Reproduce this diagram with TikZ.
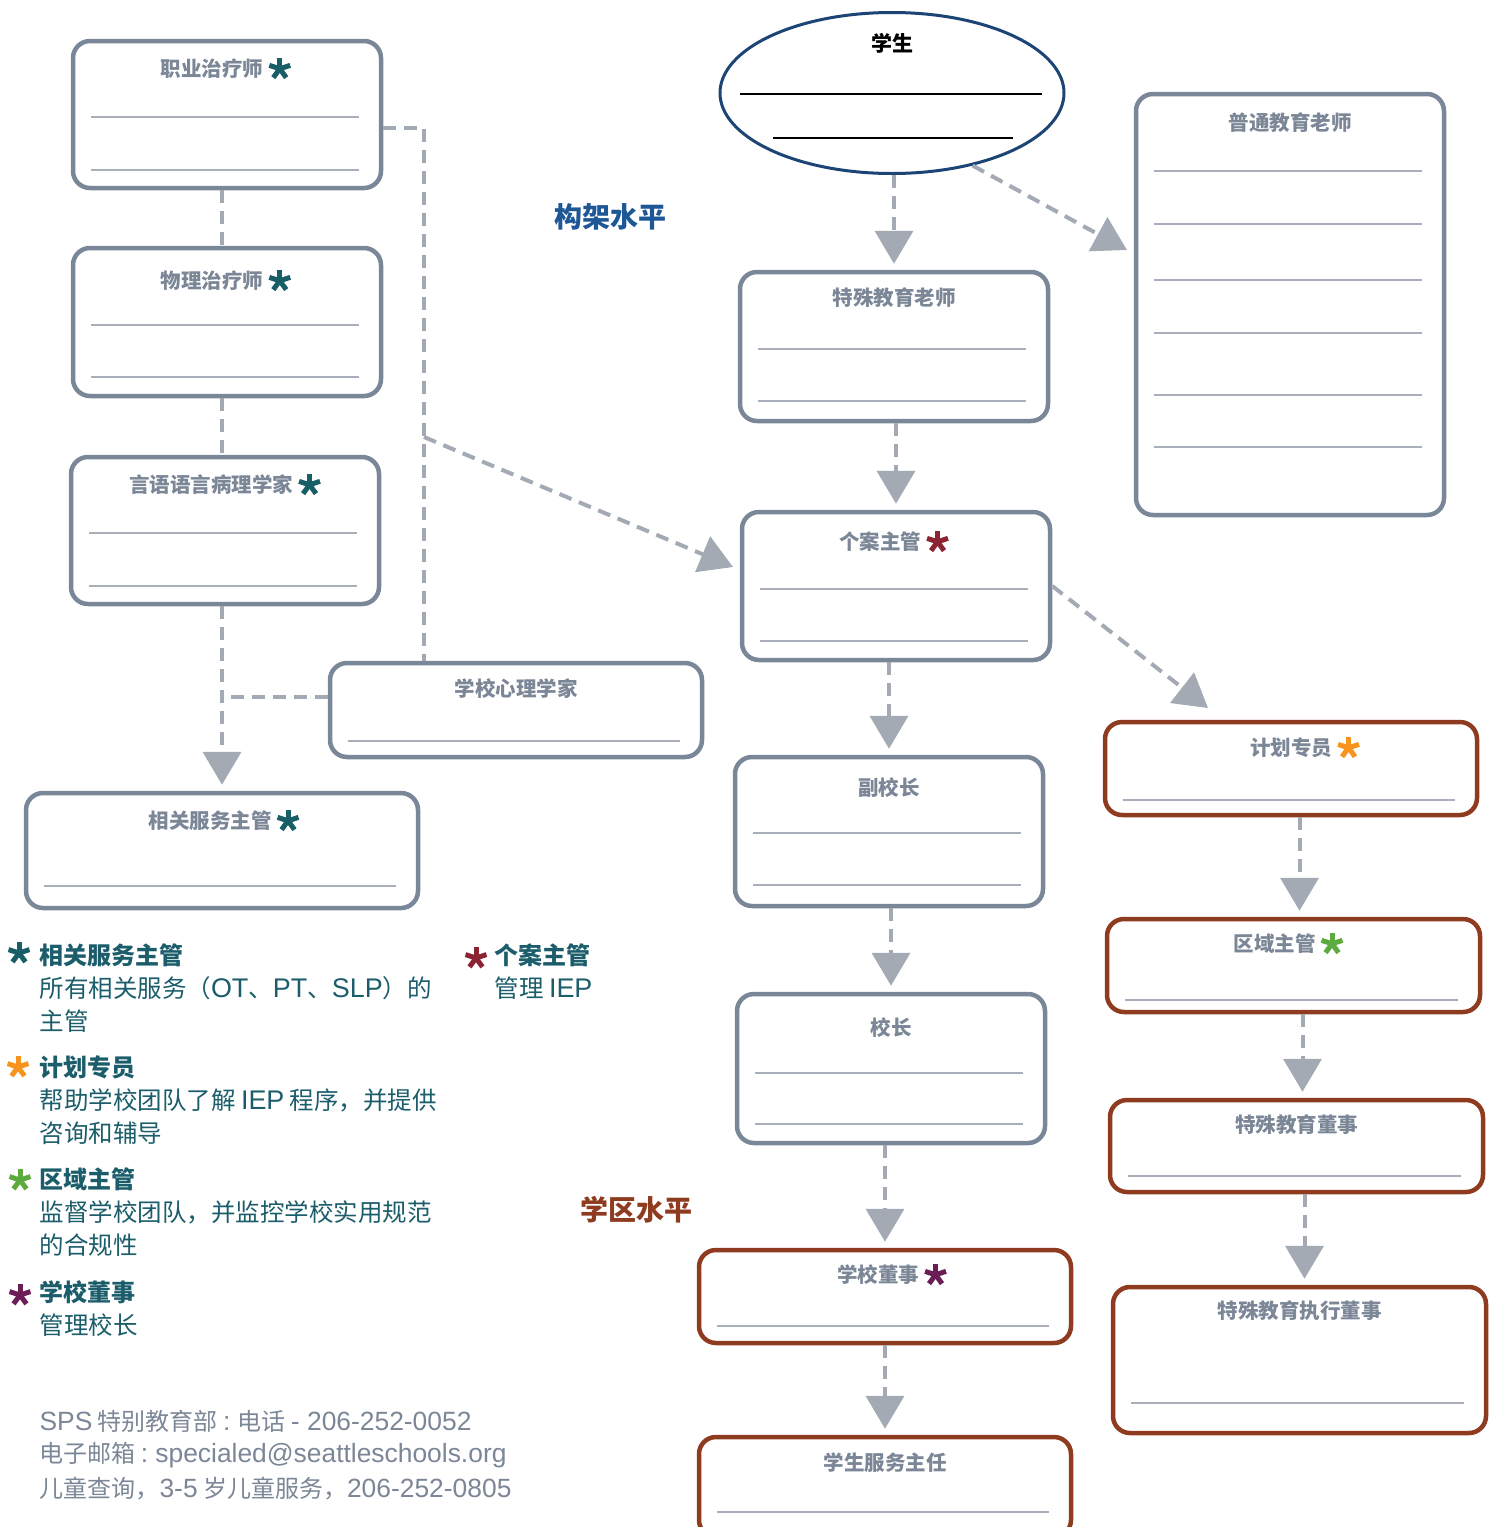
\documentclass[tikz,border=0pt]{standalone}
\usepackage{fontspec}
\setmainfont{Noto Sans CJK SC}
\newfontfamily\lat[Scale=1.1]{Liberation Sans}
\usetikzlibrary{shapes.geometric,arrows.meta}
\definecolor{frame}{HTML}{7A8798}
\definecolor{brick}{HTML}{8E3B20}
\definecolor{hair}{HTML}{A8AFBA}
\definecolor{linkgray}{HTML}{A3AAB4}
\definecolor{head}{HTML}{7B8696}
\definecolor{ink}{HTML}{1B5D6A}
\definecolor{navy}{HTML}{1C4475}
\definecolor{levelblue}{HTML}{1D5796}
\definecolor{starteal}{HTML}{175E66}
\definecolor{starred}{HTML}{8B2333}
\definecolor{starorange}{HTML}{F7941D}
\definecolor{stargreen}{HTML}{5DAA3F}
\definecolor{starplum}{HTML}{6B1E55}
\tikzset{
    card/.style={draw=frame, line width=4.5pt, rounded corners=17pt, fill=white},
    brickcard/.style={card, draw=brick},
    cardtitle/.style={text=head, font=\bfseries\fontsize{20.5}{23}\selectfont},
    hairline/.style={draw=hair, line width=2pt},
    link/.style={draw=linkgray, line width=4pt, dash pattern=on 13pt off 8pt},
    flow/.style={link, -{Triangle[width=38pt,length=33pt]}},
    drop/.style={flow, shorten >=6pt},
    legendhead/.style={anchor=west, text=ink, font=\bfseries\fontsize{24}{28}\selectfont},
    legendbody/.style={anchor=west, text=ink, font=\fontsize{24.5}{28}\selectfont},
    contact/.style={anchor=west, text=head, font=\fontsize{24}{28}\selectfont},
    spark/.pic={\foreach \a in {-90,-18,54,126,198} \draw[line width=5pt] (0,0) -- (\a:11);}
}
\begin{document}
\begin{tikzpicture}[x=1pt, y=-1pt]
    \clip (0,0) rectangle (1497,1527);
    \foreach \n/\x/\y/\w/\h/\s in {
        occ/227/114.5/308/147/card, phys/227/322/308/148/card,
        speech/225/530.5/308/147/card, psych/516/710/372/94/card,
        rsd/222/850.5/392/115/card, gened/1290/304.5/308/421/card,
        sped/894/346.5/308/149/card, cm/896/586/308/148/card,
        vp/889/831.5/308/149/card, prin/891/1068.5/308/149/card,
        sb/885/1296.5/372/93/brickcard, sss/885/1487/372/100/brickcard,
        ps/1291/768.5/372/93/brickcard, rs/1293.5/965.5/373/93/brickcard,
        sd/1296.5/1146/373/92/brickcard, ed/1299.5/1360/373/146/brickcard} {
        \node[\s, minimum width=\w pt, minimum height=\h pt] (\n) at (\x,\y) {};
    }
    \foreach \n/\dy/\dx/\t in {
        occ/30/-15/职业治疗师, phys/35/-15/物理治疗师, speech/30/-14/言语语言病理学家,
        psych/28/0/学校心理学家, rsd/30/-12/相关服务主管, gened/31/0/普通教育老师,
        sped/28/0/特殊教育老师, cm/32/-16/个案主管, vp/33/0/副校长, prin/36/0/校长,
        sb/27/-7/学校董事, sss/28/0/学生服务主任, ps/28/0/计划专员,
        rs/27/-19/区域主管, sd/27/0/特殊教育董事, ed/26/0/特殊教育执行董事} {
        \node[cardtitle] (\n-t) at ([xshift=\dx pt, yshift=-\dy pt]\n.north) {\t};
    }
    \foreach \n/\c in {occ/starteal, phys/starteal, speech/starteal, rsd/starteal,
        cm/starred, sb/starplum, ps/starorange, rs/stargreen} {
        \pic[\c] at ([xshift=13pt]\n-t.east) {spark};
    }
    \foreach \n/\list in {occ/{78,131}, phys/{79,131}, speech/{78,131}, psych/{80},
        rsd/{95}, gened/{79,132,188,241,303,355}, sped/{79,131}, cm/{79,131},
        vp/{78,130}, prin/{81,132}, sb/{78}, sss/{77}, ps/{80}, rs/{83}, sd/{78}, ed/{118}} {
        \foreach \d in \list
            \draw[hairline] ([xshift=20pt, yshift=-\d pt]\n.north west)
                -- ([xshift=-24pt, yshift=-\d pt]\n.north east);
    }
    \node[ellipse, draw=navy, line width=3pt, fill=white, minimum width=344pt,
        minimum height=161pt, inner sep=0pt] (stu) at (892,93) {};
    \node[font=\bfseries\fontsize{21}{24}\selectfont] (stu-t) at ([yshift=-32pt]stu.north) {学生};
    \draw[line width=2.5pt] (740,94) -- (1042,94) (773,138) -- (1013,138);
    \node[text=levelblue, font=\bfseries\fontsize{28}{32}\selectfont] (lvltop) at (610,217) {构架水平};
    \node[text=brick, font=\bfseries\fontsize{28}{32}\selectfont] (lvldist) at (636,1210) {学区水平};
    \coordinate (col) at (222,697);
    \coordinate (bend) at (424,128);
    \coordinate (fork) at (424,437);
    \coordinate (cmin) at (733,567);
    \coordinate (genin) at (1127,250);
    \coordinate (psin) at (1208,708);
    \draw[link] (occ.south -| col) -- (phys.north -| col);
    \draw[link] (phys.south -| col) -- (speech.north -| col);
    \draw[drop] (speech.south -| col) -- (rsd.north -| col);
    \draw[link] (psych.west |- col) -- (col);
    \draw[link] (occ.east |- bend) -- (bend) -- (bend |- psych.north);
    \draw[flow] (fork) -- (cmin);
    \draw[drop] (stu.south -| sped.north) -- (sped.north);
    \draw[flow] (stu.-42) -- (genin);
    \draw[drop] (sped.south -| cm.north) -- (cm.north);
    \draw[flow] (cm.east) -- (psin);
    \draw[drop] (cm.south -| vp.north) -- (vp.north);
    \draw[drop] (vp.south -| prin.north) -- (prin.north);
    \draw[drop] (prin.south -| sb.north) -- (sb.north);
    \draw[drop] (sb.south -| sss.north) -- (sss.north);
    \draw[drop] ([xshift=6pt]rs.north |- ps.south) -- ([xshift=6pt]rs.north);
    \draw[drop] ([xshift=6pt]sd.north |- rs.south) -- ([xshift=6pt]sd.north);
    \draw[drop] ([xshift=5pt]ed.north |- sd.south) -- ([xshift=5pt]ed.north);
    \foreach \y/\t in {955/相关服务主管, 1067/计划专员, 1179/区域主管, 1292/学校董事}
        \node[legendhead] at (36,\y) {\t};
    \foreach \y/\t in {988/所有相关服务（{\lat OT}、{\lat PT}、{\lat SLP}）的, 1021/主管,
        1100/帮助学校团队了解 {\lat IEP} 程序，并提供, 1133/咨询和辅导,
        1212/监督学校团队，并监控学校实用规范, 1245/的合规性, 1325/管理校长}
        \node[legendbody] at (36,\y) {\t};
    \node[legendhead] (cmkey) at (491,955) {个案主管};
    \node[legendbody] at (491,988) {管理 {\lat IEP}};
    \foreach \x/\y/\c in {19/953/starteal, 18/1067/starorange, 20/1180/stargreen,
        20/1295/starplum, 476/958/starred}
        \pic[\c] at (\x,\y) {spark};
    \node[contact] at (36,1421) {{\lat SPS} 特别教育部 {\lat :} 电话 {\lat - 206-252-0052}};
    \node[contact] at (36,1455) {电子邮箱 {\lat :} {\lat specialed@seattleschools.org}};
    \node[contact] at (36,1489) {儿童查询，{\lat 3-5} 岁儿童服务，{\lat 206-252-0805}};
\end{tikzpicture}
\end{document}
